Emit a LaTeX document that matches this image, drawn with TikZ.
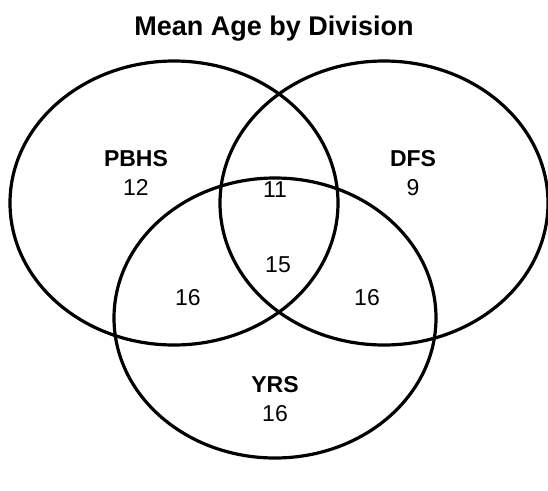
\documentclass[tikz,border=0pt]{standalone}
\usepackage{fontspec}
\setmainfont{Liberation Sans}
\usetikzlibrary{positioning,shapes.geometric}

\begin{document}
\begin{tikzpicture}[x=1pt,y=-1pt,
    set/.style={draw, ellipse, line width=3.2pt, inner sep=0pt, outer sep=0pt},
    setname/.style={font=\bfseries\fontsize{23}{27}\selectfont, inner sep=1pt},
    count/.style={font=\fontsize{23}{27}\selectfont, inner sep=1pt}]
  \useasboundingbox (0,0) rectangle (548,490);
  \node[font=\bfseries\fontsize{27}{32}\selectfont] (title) at (274,29) {Mean Age by Division};
  % the three sets
  \node[set, minimum width=328pt, minimum height=284pt] (pbhs) at (174,203) {};
  \node[set, minimum width=328pt, minimum height=284pt] (dfs) at (384,203) {};
  \node[set, minimum width=322pt, minimum height=280pt] (yrs) at (275,318) {};
  % names and counts
  \foreach \x/\y/\name/\val in {136/159/PBHS/12, 413/159/DFS/9, 275/385/YRS/16}{
    \node[setname] (\name) at (\x,\y) {\name};
    \node[count, below=10pt of \name] (\name-n) {\val};
  }
  \foreach \x/\y/\val/\id in {275/190/11/pd, 278/265/15/pdy, 188/298/16/py, 367/298/16/dy}{
    \node[count] (\id) at (\x,\y) {\val};
  }
\end{tikzpicture}
\end{document}
